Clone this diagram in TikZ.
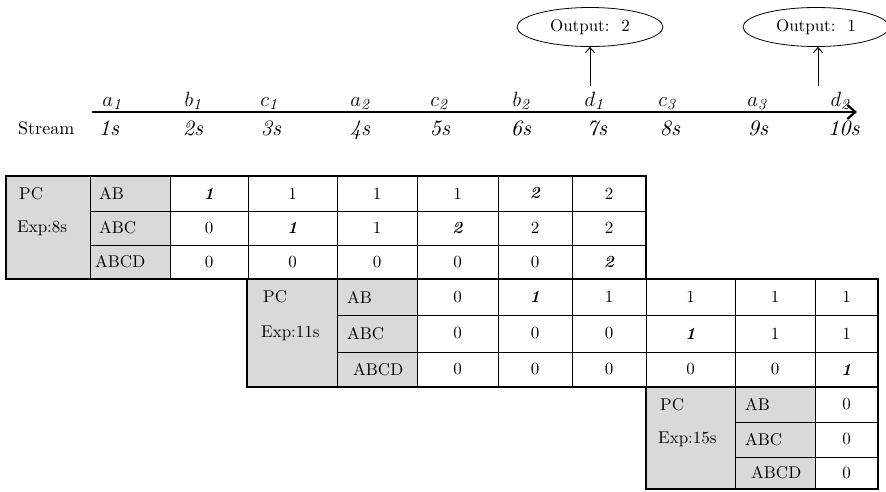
\documentclass[tikz,border=0pt]{standalone}
\usepackage{fontspec}
% 10pt design size of Latin Modern at every size: sturdier strokes
\setmainfont{lmroman10-regular.otf}[
  ItalicFont=lmroman10-italic.otf,
  BoldFont=lmroman10-bold.otf,
  BoldItalicFont=lmroman10-bolditalic.otf]
\usetikzlibrary{arrows.meta,shapes.geometric}
\definecolor{cellgray}{HTML}{D9D9D9}
\newcommand\bnum[1]{\textbf{\textit{#1}}}
\begin{document}
\begin{tikzpicture}[x=1pt,y=-1pt,
  txt/.style={font=\fontsize{17}{19}\selectfont, inner sep=0pt},
  cell/.style={txt, anchor=center},
  evt/.style={font=\fontsize{22}{25}\selectfont, inner sep=0pt, anchor=base},
  inner/.style={line width=0.8pt},
  outer/.style={line width=1.8pt},
  outbox/.style={draw, ellipse, line width=0.8pt, minimum width=146pt, minimum height=39pt, inner sep=0pt,
                 font=\fontsize{17}{19}\selectfont},
  uparrow/.style={line width=1pt, -{Straight Barb[length=5pt,width=9pt]}}]
\useasboundingbox (0,0) rectangle (886,491);

% ---------------- stream axis ----------------
\node[anchor=base west, inner sep=0pt, font=\fontsize{18}{20}\selectfont] (streamlbl) at (18,134) {Stream};
\coordinate (axisL) at (92,112);
\coordinate (axisR) at (857,112);
\draw[line width=2.4pt, -{Straight Barb[length=8pt,width=14pt,line width=2.2pt]}] (axisL) -- (axisR);

\foreach \xc/\tm [count=\k] in {109/1, 193/2, 271/3, 360/4, 440/5,
                                 521/6, 597/7, 670/8, 758/9, 844/10}{
  \node[evt] (tm-\k) at (\xc,135) {\textit{\tm s}};
}
\node[evt] (ev-1)  at (112,106) {$a_{\mathit{1}}$};
\node[evt] (ev-2)  at (193,106) {$b_{\mathit{1}}$};
\node[evt] (ev-3)  at (269,106) {$c_{\mathit{1}}$};
\node[evt] (ev-4)  at (360,106) {$a_{\mathit{2}}$};
\node[evt] (ev-5)  at (439,106) {$c_{\mathit{2}}$};
\node[evt] (ev-6)  at (521,106) {$b_{\mathit{2}}$};
\node[evt] (ev-7)  at (594,106) {$d_{\mathit{1}}$};
\node[evt] (ev-8)  at (667,106) {$c_{\mathit{3}}$};
\node[evt] (ev-9)  at (757,106) {$a_{\mathit{3}}$};
\node[evt] (ev-10) at (840,106) {$d_{\mathit{2}}$};

% output bubbles
\node[outbox] (out2) at (590,27) {Output:\hspace{0.7em}2};
\node[outbox] (out1) at (816,27) {Output:\hspace{0.7em}1};
\coordinate (trig7)  at (590,86);
\coordinate (trig10) at (818,86);
\draw[uparrow] (trig7) -- (out2.south);
\draw[uparrow] (trig10) -- (out1.south -| trig10);

% ---------------- table 1 (Exp: 8s) ----------------
\fill[cellgray] (6,176) rectangle (170,279);
\foreach \xv in {90,170,248,337,417,498,572}
  \draw[inner] (\xv,176) -- (\xv,279);
\foreach \yv in {211,245}
  \draw[inner] (90,\yv) -- (646,\yv);
\draw[outer] (6,176) rectangle (646,279);
\node[txt, anchor=west] (pc1)  at (19,193.5) {PC};
\node[txt, anchor=west] (exp1) at (17,228) {Exp:8s};
\node[txt, anchor=west] (t1ab)   at (99,193.5) {AB};
\node[txt, anchor=west] (t1abc)  at (99,228) {ABC};
\node[txt, anchor=west] (t1abcd) at (95,262) {ABCD};
\foreach \xa/\xb/\v [count=\k] in {170/248/\bnum{1}, 248/337/1, 337/417/1, 417/498/1, 498/572/\bnum{2}, 572/646/2}
  \node[cell] (t1a-\k) at ({(\xa+\xb)/2},193.5) {\v};
\foreach \xa/\xb/\v [count=\k] in {170/248/0, 248/337/\bnum{1}, 337/417/1, 417/498/\bnum{2}, 498/572/2, 572/646/2}
  \node[cell] (t1b-\k) at ({(\xa+\xb)/2},228) {\v};
\foreach \xa/\xb/\v [count=\k] in {170/248/0, 248/337/0, 337/417/0, 417/498/0, 498/572/0, 572/646/\bnum{2}}
  \node[cell] (t1c-\k) at ({(\xa+\xb)/2},262) {\v};

% ---------------- table 2 (Exp: 11s) ----------------
\fill[cellgray] (247,279) rectangle (417,387);
\foreach \xv in {337,417,498,572,646,735,815}
  \draw[inner] (\xv,279) -- (\xv,387);
\foreach \yv in {315,352}
  \draw[inner] (337,\yv) -- (878,\yv);
\draw[outer] (247,279) rectangle (878,387);
\node[txt, anchor=west] (pc2)  at (263,297) {PC};
\node[txt, anchor=west] (exp2) at (261,333.5) {Exp:11s};
\node[txt, anchor=west] (t2ab)   at (347,297) {AB};
\node[txt, anchor=west] (t2abc)  at (347,333.5) {ABC};
\node[txt, anchor=west] (t2abcd) at (353,369.5) {ABCD};
\foreach \xa/\xb/\v [count=\k] in {417/498/0, 498/572/\bnum{1}, 572/646/1, 646/735/1, 735/815/1, 815/878/1}
  \node[cell] (t2a-\k) at ({(\xa+\xb)/2},297) {\v};
\foreach \xa/\xb/\v [count=\k] in {417/498/0, 498/572/0, 572/646/0, 646/735/\bnum{1}, 735/815/1, 815/878/1}
  \node[cell] (t2b-\k) at ({(\xa+\xb)/2},333.5) {\v};
\foreach \xa/\xb/\v [count=\k] in {417/498/0, 498/572/0, 572/646/0, 646/735/0, 735/815/0, 815/878/\bnum{1}}
  \node[cell] (t2c-\k) at ({(\xa+\xb)/2},369.5) {\v};

% ---------------- table 3 (Exp: 15s) ----------------
\fill[cellgray] (646,387) rectangle (815,489);
\foreach \xv in {735,815}
  \draw[inner] (\xv,387) -- (\xv,489);
\foreach \yv in {422,457}
  \draw[inner] (735,\yv) -- (878,\yv);
\draw[outer] (646,387) rectangle (878,489);
\node[txt, anchor=west] (pc3)  at (660,404.5) {PC};
\node[txt, anchor=west] (exp3) at (658,439.5) {Exp:15s};
\node[txt, anchor=west] (t3ab)   at (745,404.5) {AB};
\node[txt, anchor=west] (t3abc)  at (745,439.5) {ABC};
\node[txt, anchor=west] (t3abcd) at (751,473) {ABCD};
\node[cell] (t3a-1) at (846.5,404.5) {0};
\node[cell] (t3b-1) at (846.5,439.5) {0};
\node[cell] (t3c-1) at (846.5,473) {0};
\end{tikzpicture}
\end{document}
